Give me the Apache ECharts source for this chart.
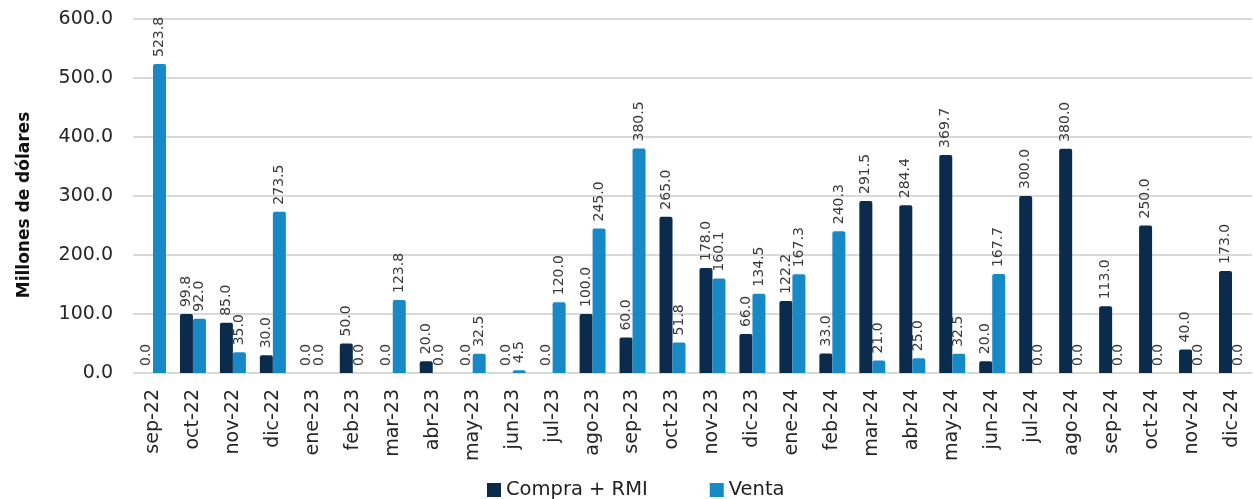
<!DOCTYPE html>
<html>
<head>
<meta charset="utf-8">
<script src="https://cdn.jsdelivr.net/npm/echarts@6/dist/echarts.min.js"></script>
<style>
  html, body { margin: 0; padding: 0; background: #fff; }
  #chart { width: 1254px; height: 499px; }
</style>
</head>
<body>
<div id="chart"></div>
<script>
const months = ['sep-22', 'oct-22', 'nov-22', 'dic-22', 'ene-23', 'feb-23', 'mar-23', 'abr-23', 'may-23', 'jun-23',
  'jul-23', 'ago-23', 'sep-23', 'oct-23', 'nov-23', 'dic-23', 'ene-24', 'feb-24', 'mar-24', 'abr-24',
  'may-24', 'jun-24', 'jul-24', 'ago-24', 'sep-24', 'oct-24', 'nov-24', 'dic-24'];

const compra = [0, 99.8, 85.0, 30.0, 0, 50.0, 0, 20.0, 0, 0,
  0, 100.0, 60.0, 265.0, 178.0, 66.0, 122.2, 33.0, 291.5, 284.4,
  369.7, 20.0, 300.0, 380.0, 113.0, 250.0, 40.0, 173.0];

const venta = [523.8, 92.0, 35.0, 273.5, 0, 0, 123.8, 0, 32.5, 4.5,
  120.0, 245.0, 380.5, 51.8, 160.1, 134.5, 167.3, 240.3, 21.0, 25.0,
  32.5, 167.7, 0, 0, 0, 0, 0, 0];

const chart = echarts.init(document.getElementById('chart'));

const font = '"DejaVu Sans", sans-serif';

const barLabel = {
  show: true,
  position: 'top',
  rotate: 90,
  align: 'left',
  verticalAlign: 'middle',
  distance: 7,
  fontFamily: font,
  fontSize: 14,
  color: '#3a3a3a',
  formatter: p => p.value.toFixed(1)
};

chart.setOption({
  animation: false,
  textStyle: { fontFamily: font },
  legend: {
    top: 480,
    left: 487,
    padding: 0,
    itemWidth: 14,
    itemHeight: 14,
    itemGap: 62,
    icon: 'rect',
    textStyle: { fontSize: 19.5, color: '#222', fontFamily: font },
    data: ['Compra + RMI', 'Venta']
  },
  grid: {
    left: 133,
    right: 2,
    top: 19,
    bottom: 126
  },
  xAxis: {
    type: 'category',
    data: months,
    axisLine: { show: false },
    axisTick: { show: false },
    axisLabel: {
      rotate: 90,
      fontSize: 19,
      color: '#262626',
      margin: 16,
      fontFamily: font
    }
  },
  yAxis: {
    type: 'value',
    min: 0,
    max: 600,
    interval: 100,
    name: 'Millones de dólares',
    nameLocation: 'middle',
    nameGap: 100,
    nameTextStyle: { fontSize: 17, fontWeight: 'bold', color: '#111', fontFamily: font, padding: [0, 18, 0, 0] },
    axisLabel: {
      fontSize: 19,
      color: '#262626',
      margin: 20,
      fontFamily: font,
      formatter: v => v.toFixed(1)
    },
    splitLine: { lineStyle: { color: '#d9d9d9', width: 2 } }
  },
  series: [
    {
      name: 'Compra + RMI',
      type: 'bar',
      data: compra,
      barWidth: 13,
      barGap: '0%',
      itemStyle: { color: '#0b2b4c', borderRadius: [2, 2, 0, 0] },
      label: barLabel
    },
    {
      name: 'Venta',
      type: 'bar',
      data: venta,
      barWidth: 13,
      itemStyle: { color: '#1789c6', borderRadius: [2, 2, 0, 0] },
      label: barLabel
    }
  ]
});
</script>
</body>
</html>
